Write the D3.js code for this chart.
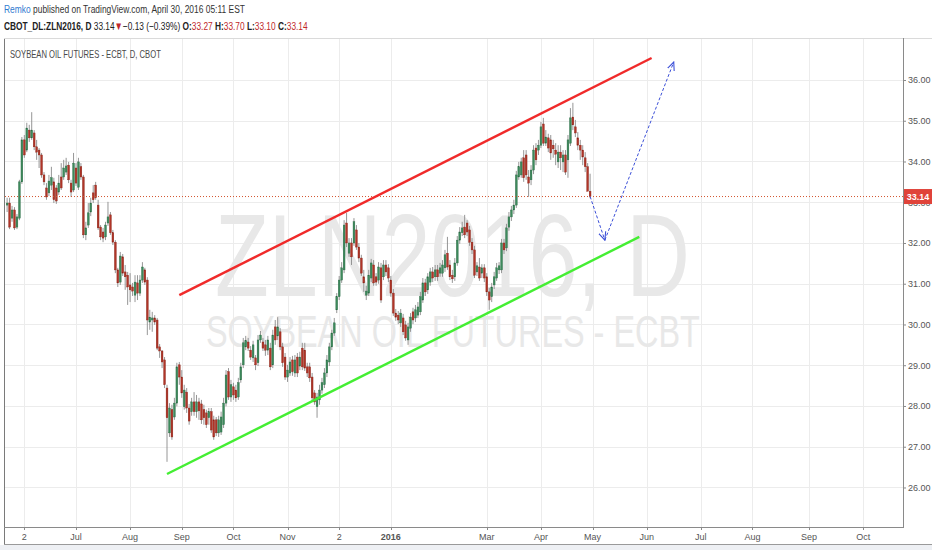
<!DOCTYPE html>
<html><head><meta charset="utf-8">
<script src="https://cdn.jsdelivr.net/npm/d3@7"></script>
<style>html,body{margin:0;padding:0;background:#fff;}svg{display:block;}</style>
</head><body>
<svg id="c" width="932" height="550"></svg>
<script>
// ---------- DATA ----------
const firstDay = "2015-05-21";
const lastDay = "2016-04-29";
const holidays = ["2015-05-25","2015-07-03","2015-09-07","2015-11-26","2015-12-25","2016-01-01","2016-01-18","2016-02-15","2016-03-25"];
const opens = [32.93,32.98,32.61,32.81,32.39,32.61,33.50,34.53,34.28,34.77,34.58,34.70,34.36,34.28,34.16,33.67,33.35,33.23,33.42,33.50,33.35,33.25,33.62,33.62,33.74,33.91,33.47,33.30,
33.84,33.37,33.87,33.62,32.20,32.44,32.76,33.23,33.42,32.93,32.39,32.27,32.15,32.49,32.69,32.25,32.02,31.34,31.04,31.66,31.29,31.21,30.97,30.92,30.72,31.02,30.77,31.09,31.34,31.09,
30.06,30.11,30.16,30.11,29.45,29.35,29.13,28.44,27.34,27.91,27.73,28.07,29.01,28.71,27.98,28.34,27.95,27.86,28.10,27.86,28.10,28.05,27.91,27.83,27.71,27.86,27.66,27.66,27.34,27.36,
27.54,28.07,28.84,28.22,28.47,28.39,28.22,28.64,29.01,29.45,29.57,29.37,29.18,29.18,29.06,29.62,29.57,29.50,29.37,29.42,29.01,29.94,29.72,29.82,29.45,29.20,28.71,28.81,29.13,28.81,
29.20,28.98,29.42,29.37,28.96,28.96,28.71,28.32,27.98,28.15,28.39,28.52,28.81,29.08,29.45,29.79,30.36,30.68,31.09,31.34,32.49,31.75,32.00,32.00,32.32,31.90,31.63,31.17,30.72,30.77,
31.14,31.46,31.17,31.09,31.39,31.17,31.46,31.39,31.09,30.77,30.28,30.23,30.04,30.16,29.99,29.62,29.91,30.31,30.16,30.23,30.31,30.60,31.02,30.85,31.04,31.29,31.17,31.34,31.26,31.26,
31.39,31.75,31.46,31.21,31.17,31.51,32.07,32.25,32.39,32.49,32.32,32.02,31.83,31.29,31.41,31.26,31.39,31.17,30.80,30.68,30.97,31.14,31.34,31.34,32.00,31.88,32.39,32.64,32.81,32.93,
33.62,33.67,34.09,34.16,33.62,33.55,33.79,34.33,34.28,34.40,34.92,34.45,34.58,34.53,34.40,34.28,33.99,34.23,33.99,34.16,34.04,34.45,35.09,34.85,34.58,34.40,34.28,34.09,33.87,33.27];
const highs = [33.11,33.11,32.91,32.88,32.71,33.55,34.60,34.65,34.95,34.90,35.21,34.77,34.53,34.33,34.21,33.74,33.47,33.67,33.87,33.60,33.42,33.67,33.96,34.04,34.09,33.99,33.55,34.21,
33.96,34.09,33.96,33.67,32.52,32.98,33.11,33.42,33.50,33.06,32.44,32.37,32.52,33.01,32.76,32.32,32.07,31.39,31.78,31.73,31.46,31.29,31.26,31.02,31.21,31.21,31.21,31.53,31.39,31.16,
30.36,30.31,30.23,30.16,29.52,29.37,29.20,28.52,28.07,28.03,28.20,29.06,29.08,28.88,28.52,28.44,28.05,28.20,28.34,28.27,28.20,28.15,28.03,27.91,27.95,27.95,27.76,27.73,27.76,27.86,
28.20,28.88,28.93,28.64,28.57,28.52,28.69,29.06,29.67,29.72,29.67,29.47,29.60,29.25,29.74,29.84,29.67,29.62,29.72,29.55,29.87,30.11,30.18,29.91,29.55,29.30,29.01,29.20,29.23,29.25,
29.30,29.33,29.55,29.55,29.06,29.06,28.81,28.39,28.32,28.52,28.69,28.93,29.25,29.55,29.87,30.16,30.77,31.19,31.53,32.56,32.74,32.12,32.12,32.61,32.44,32.00,31.71,31.34,30.95,31.34,
31.61,31.58,31.26,31.53,31.51,31.58,31.58,31.48,31.19,30.87,30.38,30.33,30.38,30.26,30.09,30.04,30.28,30.41,30.48,30.55,30.80,31.14,31.12,31.26,31.39,31.41,31.46,31.46,31.51,31.58,
31.83,32.15,31.58,31.34,31.63,32.17,32.39,32.52,32.69,32.56,32.42,32.12,31.93,31.53,31.63,31.48,31.48,31.26,30.90,31.02,31.29,31.51,31.53,32.10,32.10,32.47,32.76,32.91,33.06,33.77,
33.99,34.09,34.28,34.28,33.79,33.91,34.40,34.45,34.53,34.97,35.07,34.77,34.68,34.65,34.53,34.45,34.40,34.40,34.28,34.28,34.65,35.31,35.44,35.02,34.72,34.53,34.40,34.23,33.96,33.70];
const lows = [32.76,32.34,32.52,32.32,32.34,32.56,33.45,34.09,34.23,34.48,34.53,34.28,34.04,33.84,33.60,33.42,33.06,33.15,33.30,32.98,32.96,33.18,33.30,33.55,33.67,33.47,33.13,33.25,
33.40,33.30,33.55,32.12,32.07,32.37,32.66,32.98,33.06,32.32,32.07,32.02,32.07,32.42,32.20,31.95,31.26,30.92,30.97,31.19,30.85,30.48,30.55,30.70,30.55,30.60,30.70,31.02,30.97,29.74,
29.87,29.82,29.99,29.37,29.18,28.93,28.44,26.63,27.24,27.17,27.66,27.99,28.52,28.20,27.91,27.83,27.54,27.76,27.76,27.71,27.66,27.56,27.54,27.46,27.54,27.34,27.17,27.26,27.24,27.29,
27.46,27.99,28.15,28.10,28.15,28.10,28.15,28.57,28.93,29.37,29.35,29.13,29.08,28.88,28.98,29.55,29.35,29.23,29.25,28.88,28.93,29.50,29.62,29.37,28.96,28.64,28.59,28.74,28.74,28.71,
28.71,28.88,28.88,28.86,28.71,28.59,28.12,28.03,27.71,28.03,28.30,28.44,28.71,28.98,29.37,29.72,30.28,30.60,31.02,31.26,31.90,31.66,31.46,31.93,31.83,31.53,31.19,30.80,30.60,30.70,
31.04,30.95,30.95,31.00,30.53,31.09,31.19,31.04,30.68,30.21,30.09,30.01,29.94,29.74,29.60,29.50,29.82,30.01,30.06,30.16,30.23,30.53,30.70,30.75,30.95,31.04,31.07,31.07,31.17,31.17,
31.29,31.34,31.09,31.02,31.07,31.44,31.98,32.17,32.12,32.17,31.93,31.73,31.14,31.19,31.07,31.14,31.04,30.70,30.36,30.55,30.87,31.07,31.24,31.26,31.73,31.80,32.30,32.54,32.71,32.86,
33.55,33.60,33.50,33.55,33.13,33.42,33.69,33.91,34.16,34.33,34.38,34.38,34.23,34.04,34.09,33.91,33.84,33.79,33.74,33.67,33.60,34.38,34.77,34.60,34.28,34.04,33.91,33.74,33.35,33.10];
const closes = [32.98,32.39,32.81,32.37,32.64,33.50,34.53,34.16,34.82,34.58,34.77,34.36,34.23,34.16,33.67,33.50,33.13,33.52,33.60,33.06,33.03,33.47,33.35,33.84,33.89,33.55,33.25,33.96,
33.47,33.99,33.62,32.20,32.37,32.74,32.98,33.06,33.11,32.37,32.15,32.12,32.44,32.64,32.25,32.02,31.34,31.02,31.68,31.26,31.17,30.92,30.85,30.82,31.04,30.77,31.09,31.41,31.04,30.11,
30.18,30.16,30.06,29.42,29.35,29.08,28.52,27.71,27.95,27.24,28.07,28.96,28.71,28.32,28.39,27.95,27.63,28.10,27.86,28.10,27.88,27.66,27.71,27.54,27.86,27.41,27.24,27.34,27.66,27.73,
28.07,28.76,28.22,28.52,28.27,28.20,28.57,28.96,29.55,29.60,29.42,29.20,29.50,29.01,29.62,29.74,29.42,29.37,29.62,28.96,29.74,29.62,29.94,29.45,29.06,28.71,28.88,29.08,28.84,29.13,
28.81,29.20,28.96,28.93,28.81,28.69,28.20,28.10,28.22,28.39,28.57,28.81,29.13,29.45,29.79,30.04,30.68,31.09,31.39,32.44,32.00,32.00,31.66,32.52,31.90,31.63,31.26,31.02,30.82,31.21,
31.51,31.02,31.04,31.41,30.60,31.46,31.29,31.14,30.77,30.28,30.18,30.11,30.28,29.82,29.67,29.94,30.18,30.11,30.36,30.43,30.68,31.02,30.80,31.17,31.29,31.14,31.34,31.17,31.39,31.46,
31.71,31.41,31.17,31.12,31.51,32.07,32.27,32.37,32.20,32.27,32.02,31.83,31.21,31.44,31.14,31.39,31.14,30.80,30.60,30.92,31.17,31.39,31.44,32.00,31.83,32.37,32.64,32.81,32.93,33.67,
33.87,33.99,33.60,33.67,33.47,33.79,34.28,34.04,34.40,34.85,34.45,34.60,34.33,34.21,34.31,34.18,34.23,34.09,34.16,33.74,34.53,35.07,34.90,34.70,34.40,34.28,34.11,33.87,33.27,33.14];
const priceTicks = [26,27,28,29,30,31,32,33,34,35,36];
const timeTicks = [["2015-06-02","2"],["2015-07-01","Jul"],["2015-08-03","Aug"],["2015-09-01","Sep"],["2015-10-01","Oct"],["2015-11-02","Nov"],["2015-12-02","2"],["2016-01-04","2016"],["2016-03-01","Mar"],["2016-04-01","Apr"],["2016-05-02","May"],["2016-06-01","Jun"],["2016-07-01","Jul"],["2016-08-01","Aug"],["2016-09-01","Sep"],["2016-10-03","Oct"]];
const redChannel = [["2015-08-31",30.72],["2016-06-03",36.54]];
const greenChannel = [["2015-08-24",26.33],["2016-05-27",32.15]];
const projection = [["2016-04-29",33.14],["2016-05-09",32.07],["2016-06-16",36.44]];
const lastPrice = 33.14;

// ---------- CALENDAR ----------
const fmt = d3.utcFormat("%Y-%m-%d");
const parse = d3.utcParse("%Y-%m-%d");
const hol = new Set(holidays);
const cal = [];
for (let d = parse(firstDay); d <= parse("2016-12-31"); d = d3.utcDay.offset(d,1)) {
  const wd = d.getUTCDay(); const s = fmt(d);
  if (wd===0||wd===6) continue;
  if (d <= parse(lastDay) && hol.has(s)) continue;
  cal.push(s);
}
const idx = new Map(cal.map((s,i)=>[s,i]));
const bars = opens.map((o,i)=>({d:cal[i],o,h:highs[i],l:lows[i],c:closes[i]}));

// ---------- LAYOUT ----------
const svg = d3.select("#c");
const L=5, R=903, T=39, B=527;
const x = d3.scaleLinear().domain([-0.86, 364.2]).range([L, R]);
const y = d3.scaleLinear().domain([25.03, 37.006]).range([B, T]);
const X = s => x(idx.get(s));
const FONT = "Liberation Sans, Arial, sans-serif";

// text squeezed horizontally to fit a target width (keeps glyph boxes consistent)
function fitText(parent, x0, y0, width, size, build){
  const gg = parent.append("g").attr("transform",`translate(${x0},${y0})`);
  const t = gg.append("text").attr("x",0).attr("y",0).attr("font-family",FONT).attr("font-size",size);
  build(t);
  const w = t.node().getComputedTextLength();
  gg.attr("transform",`translate(${x0},${y0}) scale(${width/w},1)`);
  return t;
}

svg.append("rect").attr("width",932).attr("height",550).attr("fill","#fff");
svg.append("rect").attr("x",0).attr("y",545).attr("width",932).attr("height",5).attr("fill","#eef0f4");

const clipId="plotclip";
svg.append("clipPath").attr("id",clipId).append("rect").attr("x",L).attr("y",T).attr("width",R-L).attr("height",B-T);

// grid
const g = svg.append("g");
g.selectAll(".hg").data(priceTicks).join("line").attr("x1",L).attr("x2",R)
 .attr("y1",d=>Math.round(y(d))+0.5).attr("y2",d=>Math.round(y(d))+0.5).attr("stroke","#ececec");
g.selectAll(".vg").data(timeTicks).join("line").attr("y1",T).attr("y2",B)
 .attr("x1",d=>Math.round(X(d[0]))+0.5).attr("x2",d=>Math.round(X(d[0]))+0.5).attr("stroke","#ececec");

// watermark
fitText(svg, 215, 296, 475, 116, t=>t.attr("fill","#e8e8e8").text("ZLN2016, D"));
fitText(svg, 206, 347, 494, 44, t=>t.attr("fill","#e8e8e8").text("SOYBEAN OIL FUTURES - ECBT"));

// candles
const pc = svg.append("g").attr("clip-path",`url(#${clipId})`);
const bw = 1.8;
pc.selectAll(".w").data(bars).join("line")
 .attr("x1",d=>X(d.d)).attr("x2",d=>X(d.d)).attr("y1",d=>y(d.h)).attr("y2",d=>y(d.l))
 .attr("stroke","#8a8a8a").attr("stroke-width",0.9);
pc.selectAll(".b").data(bars).join("rect")
 .attr("x",d=>X(d.d)-bw/2).attr("width",bw)
 .attr("y",d=>y(Math.max(d.o,d.c))).attr("height",d=>Math.max(1,Math.abs(y(d.o)-y(d.c))))
 .attr("fill",d=>d.c>=d.o?"#3d8a5c":"#b03528")
 .attr("stroke",d=>d.c>=d.o?"#2a6a44":"#8a2418").attr("stroke-width",0.4);

// last price line
pc.append("line").attr("x1",L).attr("x2",R).attr("y1",y(lastPrice)).attr("y2",y(lastPrice))
 .attr("stroke","#d2552f").attr("stroke-width",1).attr("stroke-dasharray","1,2");

// channel lines
const line = d3.line().x(d=>X(d[0])).y(d=>y(d[1]));
pc.append("path").attr("d",line(redChannel)).attr("stroke","#f02a2a").attr("stroke-width",2.4).attr("fill","none");
pc.append("path").attr("d",line(greenChannel)).attr("stroke","#44ee33").attr("stroke-width",2.4).attr("fill","none");

// projection with arrows
const defs = svg.append("defs");
defs.append("marker").attr("id","arr").attr("viewBox","0 0 10 10").attr("refX",9).attr("refY",5)
 .attr("markerWidth",9).attr("markerHeight",9).attr("orient","auto").attr("markerUnits","userSpaceOnUse")
 .append("path").attr("d","M0,1 L9,5 L0,9").attr("fill","none").attr("stroke","#3b4fd8").attr("stroke-width",1.2);
for (let k=0;k<projection.length-1;k++){
  pc.append("path").attr("d",line([projection[k],projection[k+1]])).attr("stroke","#3b4fd8").attr("stroke-width",1)
   .attr("stroke-dasharray","3,2").attr("fill","none").attr("marker-end","url(#arr)");
}

// frame
svg.append("line").attr("x1",4.5).attr("x2",4.5).attr("y1",38).attr("y2",545).attr("stroke","#7a7a7a");
svg.append("line").attr("x1",4).attr("x2",932).attr("y1",38.5).attr("y2",38.5).attr("stroke","#dadada");
svg.append("line").attr("x1",R+0.5).attr("x2",R+0.5).attr("y1",38).attr("y2",527).attr("stroke","#8a8a8a");
svg.append("line").attr("x1",4).attr("x2",R+1).attr("y1",B+0.5).attr("y2",B+0.5).attr("stroke","#8a8a8a");
svg.append("line").attr("x1",4).attr("x2",932).attr("y1",544.5).attr("y2",544.5).attr("stroke","#9a9a9a");

// price axis
const ya = svg.append("g").attr("transform",`translate(${R},0)`)
 .call(d3.axisRight(y).tickValues(priceTicks).tickSize(3).tickFormat(d3.format(".2f")));
ya.select(".domain").remove();
ya.selectAll("line").attr("stroke","#8a8a8a");
ya.selectAll("text").attr("font-family",FONT).attr("font-size",9).attr("fill","#555").attr("dx",-1);

// time axis
const ta = svg.append("g");
ta.selectAll("line").data(timeTicks).join("line").attr("x1",d=>Math.round(X(d[0]))+0.5).attr("x2",d=>Math.round(X(d[0]))+0.5)
 .attr("y1",B).attr("y2",B+3).attr("stroke","#8a8a8a");
ta.selectAll("text").data(timeTicks).join("text").attr("x",d=>X(d[0])).attr("y",540).attr("text-anchor","middle")
 .attr("font-family",FONT).attr("font-size",9).attr("fill","#555")
 .attr("font-weight",d=>d[1]==="2016"?"bold":"normal").text(d=>d[1]);

// last price label
svg.append("rect").attr("x",R+1).attr("y",y(lastPrice)-7.5).attr("width",28).attr("height",15).attr("fill","#e0433a");
svg.append("text").attr("x",R+15).attr("y",y(lastPrice)+3.2).attr("text-anchor","middle").attr("font-family",FONT)
 .attr("font-size",9).attr("font-weight","bold").attr("fill","#fff").text(d3.format(".2f")(lastPrice));

// pane title
fitText(svg, 10, 58, 151, 10, t=>t.attr("fill","#4a4a4a").text("SOYBEAN OIL FUTURES - ECBT, D, CBOT"));

// header
fitText(svg, 4, 13, 241, 11.5, t=>{
  t.attr("fill","#333");
  t.append("tspan").attr("fill","#2f7bd0").text("Remko");
  t.append("tspan").text(" published on TradingView.com, April 30, 2016 05:11 EST");
});
const red="#c0282a";
fitText(svg, 4, 30, 304, 11.5, t=>{
  t.attr("fill","#222");
  t.append("tspan").attr("font-weight","bold").text("CBOT_DL:ZLN2016, D");
  t.append("tspan").text("  33.14");
  t.append("tspan").attr("fill",red).text("\u25BC");
  t.append("tspan").text("\u22120.13 (\u22120.39%) ");
  t.append("tspan").attr("font-weight","bold").text("O:");
  t.append("tspan").attr("fill",red).text("33.27 ");
  t.append("tspan").attr("font-weight","bold").text("H:");
  t.append("tspan").attr("fill",red).text("33.70 ");
  t.append("tspan").attr("font-weight","bold").text("L:");
  t.append("tspan").attr("fill",red).text("33.10 ");
  t.append("tspan").attr("font-weight","bold").text("C:");
  t.append("tspan").attr("fill",red).text("33.14");
});
</script>
</body></html>
